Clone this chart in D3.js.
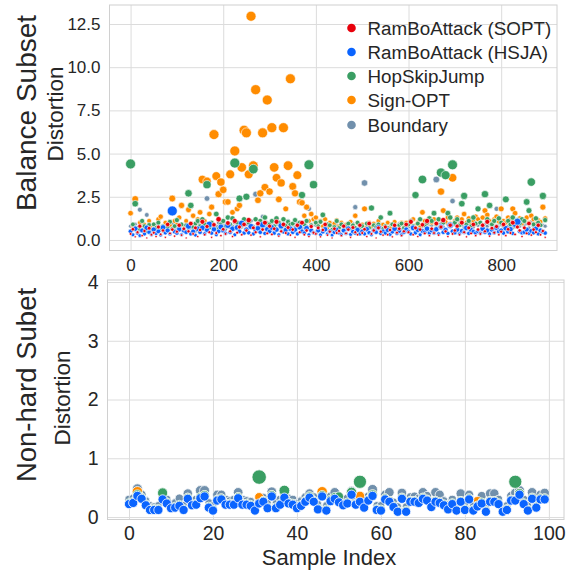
<!DOCTYPE html>
<html><head><meta charset="utf-8">
<script src="https://cdn.jsdelivr.net/npm/d3@7"></script>
<style>
body{margin:0;background:#fff;}
text{font-family:"Liberation Sans",Arial,sans-serif;fill:#262626;}
</style></head><body>
<svg id="c" width="570" height="572"></svg>
<script>
// ---------- DATA ----------
const seriesNames = ["RamBoAttack (SOPT)","RamBoAttack (HSJA)","HopSkipJump","Sign-OPT","Boundary"];
const seriesColors = ["#e8000b","#0a64ff","#3a9e63","#ff8c00","#7190ac"];

// Balance subset: values at sample indices 0,5,10,...,895
const topStep = 5;
const topSOPT = [
.35,.62,.18,.45,.8,.25,.52,.12,.68,.3, .42,.2,.75,.33,.55,.15,.9,.38,.6,.22,
.48,.85,.28,.65,.12,.5,.95,.35,.7,.2, .58,1.05,.3,.78,.45,.15,.88,.4,1.2,.25,
.62,.35,.98,.5,.2,1.1,.42,.75,.3,.9, .55,1.15,.28,.7,.45,.95,.18,.6,1.0,.38,
.8,.32,.65,1.05,.22,.5,.9,.4,.72,.28, .6,.15,.85,.45,1.0,.3,.55,.2,.78,.42,
.35,.7,.18,.58,.9,.28,.48,.12,.65,.4, .52,.25,.8,.38,.6,.15,.72,.45,.3,.85,
.4,.62,.2,.95,.35,.55,.12,.7,.48,.28, .75,.3,.58,.18,.85,.42,.65,.25,.5,.9,
.45,1.05,.3,.7,.2,.6,.88,.38,1.1,.25, .65,.4,.95,.28,.75,1.15,.5,.2,.85,.35,
.55,.8,.3,1.0,.45,.18,.7,.38,.9,.25, .6,.35,.85,.5,1.05,.22,.68,.42,.78,.3,
.48,.9,.25,.62,.4,1.0,.32,.75,.55,.2, .7,.38,.95,.28,.6,.45,.85,.3,.52,.15];
const topHSJA = [
.5,.3,.65,.4,.25,.55,.35,.7,.45,.3, .6,.38,.5,.28,.72,.42,.55,.35,1.68,.48,
.4,.62,.3,.55,.45,.8,.35,.5,.28,.65, .45,.7,.35,.58,.9,.4,.62,.3,.5,.75,
.55,.38,.85,.45,.65,.3,.72,.5,.95,.4, .6,.42,.78,.35,.55,.68,.45,.88,.38,.62,
.5,.72,.4,.6,.3,.82,.48,.58,.35,.65, .45,.6,.35,.75,.5,.4,.68,.3,.55,.42,
.38,.55,.3,.48,.62,.35,.5,.28,.45,.58, .42,.3,.55,.38,.65,.32,.48,.4,.58,.35,
.5,.35,.62,.42,.3,.55,.45,.72,.38,.5, .4,.58,.32,.48,.65,.38,.52,.3,.45,.6,
.48,.35,.7,.42,.58,.3,.52,.45,.65,.4, .55,.4,.62,.35,.75,.45,.58,.38,.85,.5,
.42,.6,.35,.52,.45,.7,.38,.58,.48,.4, .5,.38,.65,.45,.55,.35,.6,.42,.72,.48,
.55,.4,.68,.48,.62,.38,.92,1.05,.5,.42, .45,.6,.38,.52,.42,.65,.35,.55,.48,.4];
const topHSJ = [
4.4,.9,2.1,.7,.6,1.1,.8,.5,.87,.6, .9,.7,1.0,.6,.8,.5,.75,1.05,.65,.8,
1.15,.7,.9,.6,.85,2.7,2.0,.75,.95,1.1, .8,1.2,.9,3.2,.7,1.0,.85,1.5,.65,.9,
1.1,.8,1.3,.9,1.25,4.45,1.0,2.4,.85,1.2, 2.5,1.0,.8,4.1,1.2,.9,1.1,.7,1.3,.95,
.9,1.1,.8,1.25,1.0,.7,1.2,.85,1.05,.9, .95,1.15,.8,1.0,2.6,.9,1.1,4.35,.85,3.2,
1.0,.8,1.05,1.45,.7,.9,.85,.6,.75,1.1, .7,.9,.6,.8,.95,.65,.85,.7,1.0,.75,
.8,.6,.95,.7,1.85,.85,.75,.9,1.3,.65, .8,.7,1.55,.9,.75,.6,.85,.95,.7,.8,
.9,1.1,.8,2.6,.95,1.2,3.5,.85,1.0,1.25, 1.1,1.55,.9,1.2,3.9,1.0,3.75,1.55,1.3,4.35,
1.0,1.2,.85,2.1,2.55,.9,1.1,.8,1.3,.95, 1.8,1.0,.85,2.65,1.2,2.0,.9,1.1,.8,1.25,
1.0,.85,2.35,1.1,.9,1.3,.8,1.15,.95,1.2, 1.1,2.2,1.7,3.35,.9,1.25,1.0,.85,2.55,1.15];
const topSignOPT = [
1.55,.8,2.37,.7,1.0,.6,.9,.5,1.1,.75, .9,.65,1.2,1.35,.8,1.0,.7,.85,2.4,1.1,
.9,1.3,2.0,.8,1.1,1.75,.95,1.4,.85,1.2, 1.6,3.5,1.1,3.4,1.5,1.9,6.1,3.7,2.65,3.35,
2.9,2.2,2.2,3.8,1.6,5.15,1.8,2.0,4.2,6.35, 6.2,3.8,12.95,4.3,8.7,2.3,2.7,6.2,3.05,8.1,
2.8,6.5,4.2,3.6,2.35,3.3,6.5,1.8,4.3,9.33, 3.1,2.7,3.75,2.2,2.15,1.4,1.9,1.1,1.5,1.2,
1.3,.9,1.1,.8,1.2,.7,1.0,.85,.95,1.15, .8,1.0,.7,.9,.75,1.05,.85,1.4,.95,.7,
.9,1.8,.8,1.0,.75,.95,.7,1.1,.85,.9, .8,1.0,.7,.9,1.05,.75,.85,1.0,.8,1.0,
.9,1.1,1.2,.85,1.0,.8,1.6,1.1,.95,1.25, 1.0,1.2,.9,1.15,2.8,1.7,1.05,1.3,.95,3.6,
1.1,1.3,.9,1.2,1.5,1.0,1.25,.95,1.1,1.35, 1.2,1.0,1.3,1.7,1.45,1.1,.95,1.2,1.35,1.05,
1.8,1.1,1.0,1.3,1.2,1.8,1.55,1.0,1.25,.95, 1.1,1.3,1.0,1.4,1.2,.95,1.15,1.05,1.9,1.25];
const topBoundary = [
.8,.6,.9,.5,1.75,.7,.55,1.45,.65,.8, .7,.9,.6,.75,.5,.85,.65,.8,.95,.6,
.75,.55,.85,.65,.9,.6,.7,.8,.5,.95, .7,.85,.6,2.4,.75,.9,.65,.8,1.0,.7,
.85,.6,.95,.7,.8,1.0,.65,.9,.75,1.05, .9,.7,1.1,.8,2.65,.95,.75,1.35,.85,1.0,
.8,1.0,.7,.9,1.05,.75,.95,.85,1.1,.8, .9,.75,1.0,.85,.7,.95,.8,1.8,.9,1.2,
.85,.7,1.0,.75,.9,.65,.8,.95,.7,.85, .75,.9,.6,.85,.7,.8,.95,1.9,.65,.8,
.9,3.3,.7,.85,.75,.95,.65,.8,.9,.7, .8,.65,.9,.75,.85,.7,.95,.6,.8,.9,
.75,.9,.65,.85,.95,.7,.8,1.0,.75,.9, .85,1.0,3.5,.8,.95,.75,1.05,.9,.8,2.25,
.9,.75,1.0,.85,.7,.95,.8,1.1,.75,.9, .85,1.0,.75,.9,.8,.95,.7,1.05,1.8,.85,
.9,.75,1.0,.8,.95,.7,.85,1.1,.8,.9, .85,.95,.7,1.05,.8,.9,.75,1.0,.85,.8];

// Non-hard subset: values at sample indices 0..99
const botHSJA = [
.22,.24,.36,.31,.2,.12,.12,.12,.3,.23, .15,.16,.19,.12,.31,.2,.21,.32,.35,.16,
.11,.28,.3,.21,.21,.21,.32,.21,.21,.19, .11,.23,.26,.15,.35,.15,.21,.33,.23,.21,
.15,.19,.26,.33,.26,.13,.35,.11,.27,.31, .25,.2,.23,.38,.21,.26,.16,.28,.36,.12,
.11,.3,.26,.17,.09,.31,.09,.26,.26,.24, .31,.28,.17,.26,.24,.2,.13,.22,.11,.26,
.12,.3,.11,.18,.23,.09,.26,.26,.22,.09, .12,.28,.28,.38,.22,.11,.31,.16,.3,.3];
const botHSJ = [
.25,.27,.38,.33,.23,.15,.15,.15,.41,.26, .18,.19,.22,.15,.33,.23,.24,.34,.37,.19,
.14,.3,.32,.24,.24,.24,.34,.24,.24,.22, .14,.68,.28,.18,.37,.18,.24,.45,.26,.24,
.18,.22,.28,.35,.28,.16,.37,.14,.3,.34, .35,.23,.26,.42,.24,.6,.19,.3,.38,.15,
.14,.32,.28,.2,.12,.33,.12,.28,.28,.26, .33,.3,.2,.28,.26,.23,.16,.25,.14,.28,
.15,.32,.14,.21,.26,.12,.28,.28,.25,.12, .15,.3,.6,.4,.25,.14,.33,.19,.32,.32];
const botSignOPT = [
.24,.26,.43,.33,.22,.14,.14,.14,.32,.25, .17,.18,.21,.14,.33,.22,.23,.34,.37,.18,
.13,.3,.32,.23,.23,.23,.34,.23,.23,.21, .13,.34,.28,.17,.37,.17,.23,.35,.25,.23,
.17,.21,.28,.35,.28,.15,.43,.13,.29,.33, .27,.22,.25,.4,.23,.36,.18,.3,.38,.14,
.13,.32,.28,.19,.11,.33,.11,.28,.28,.26, .33,.3,.19,.28,.26,.22,.15,.24,.13,.28,
.14,.32,.13,.28,.25,.11,.28,.28,.24,.11, .14,.3,.3,.4,.24,.13,.33,.18,.32,.32];
const botBoundary = [
.3,.32,.48,.38,.28,.2,.18,.2,.36,.3, .22,.25,.32,.2,.4,.28,.3,.45,.45,.25,
.2,.38,.38,.3,.28,.3,.42,.3,.28,.27, .2,.32,.33,.24,.43,.24,.3,.4,.32,.3,
.24,.28,.34,.4,.34,.22,.42,.2,.35,.42, .33,.3,.32,.44,.3,.34,.25,.35,.47,.2,
.2,.38,.42,.26,.18,.41,.18,.34,.35,.32, .42,.36,.26,.42,.38,.28,.22,.3,.2,.4,
.22,.38,.2,.27,.36,.18,.4,.4,.3,.18, .2,.36,.41,.45,.3,.2,.42,.25,.38,.41];

const topXTicks = [0,200,400,600,800];
const topYTicks = [0,2.5,5,7.5,10,12.5];
const botXTicks = [0,20,40,60,80,100];
const botYTicks = [0,1,2,3,4];

// ---------- DRAW ----------
const svg = d3.select("#c");
const grid = "#dcdcdc";

function panel(cfg){
  const g = svg.append("g");
  const x = d3.scaleLinear().domain(cfg.xd).range([cfg.l, cfg.r]);
  const y = d3.scaleLinear().domain(cfg.yd).range([cfg.b, cfg.t]);
  const ax = g.append("g").attr("transform",`translate(0,${cfg.b})`)
    .call(d3.axisBottom(x).tickValues(cfg.xt).tickSize(-(cfg.b-cfg.t)).tickPadding(cfg.xpad).tickFormat(cfg.xf));
  const ay = g.append("g").attr("transform",`translate(${cfg.l},0)`)
    .call(d3.axisLeft(y).tickValues(cfg.yt).tickSize(-(cfg.r-cfg.l)).tickPadding(cfg.ypad).tickFormat(cfg.yf));
  [ax,ay].forEach(a=>{
    a.select(".domain").remove();
    a.selectAll(".tick line").attr("stroke",grid).attr("stroke-width",1);
    a.selectAll(".tick text").attr("font-size",cfg.fs).attr("fill","#262626")
      .style("font-family",'"Liberation Sans",Arial,sans-serif');
  });
  g.append("rect").attr("x",cfg.l).attr("y",cfg.t).attr("width",cfg.r-cfg.l).attr("height",cfg.b-cfg.t)
    .attr("fill","none").attr("stroke","#d0d0d0").attr("stroke-width",1);
  const clip = "clip"+cfg.id;
  svg.append("clipPath").attr("id",clip).append("rect").attr("x",cfg.l).attr("y",cfg.t).attr("width",cfg.r-cfg.l).attr("height",cfg.b-cfg.t);
  const pts = g.append("g").attr("clip-path",`url(#${clip})`);
  cfg.series.forEach(s=>{
    pts.append("g").selectAll("circle").data(s.vals).join("circle")
      .attr("cx",(d,i)=>x(i*cfg.step)).attr("cy",d=>y(d))
      .attr("r",d=>s.r(d)).attr("fill",seriesColors[s.k])
      .attr("stroke","#fff").attr("stroke-width",cfg.sw);
  });
  return {x,y};
}

const clamp=(v,a,b)=>Math.max(a,Math.min(b,v));
panel({id:"t", l:109.5, r:557, t:5, b:250.5, xd:[-45.5,920.5], yd:[-0.61,13.6],
  xt:topXTicks, yt:topYTicks, xf:d3.format("d"), yf:d3.format(".1f"), fs:"17px", xpad:8, ypad:9,
  step:topStep, sw:0.6,
  series:[
    {k:4, vals:topBoundary, r:v=>clamp(1.6+0.5*v,1.8,3.4)},
    {k:3, vals:topSignOPT, r:v=>clamp(1.6+0.75*v,2.2,5)},
    {k:2, vals:topHSJ, r:v=>clamp(1.7+0.75*v,2.2,5)},
    {k:1, vals:topHSJA, r:v=>clamp(1.3+2.2*v,1.8,5)},
    {k:0, vals:topSOPT, r:v=>clamp(0.8+1.6*v,1.0,2.8)}
  ]});
panel({id:"b", l:107.5, r:564, t:280, b:519.5, xd:[-5.12,103.6], yd:[-0.042,4.034],
  xt:botXTicks, yt:botYTicks, xf:d3.format("d"), yf:d3.format("d"), fs:"19.5px", xpad:7, ypad:9,
  step:1, sw:0.8,
  series:[
    {k:4, vals:botBoundary, r:v=>clamp(3.8+6*(v-0.25),3.8,5)},
    {k:3, vals:botSignOPT, r:v=>clamp(3.8+8*(v-0.25),3.8,8)},
    {k:2, vals:botHSJ, r:v=>clamp(3.8+8*(v-0.25),3.8,8)},
    {k:1, vals:botHSJA, r:v=>4.6}
  ]});

function vtext(x,y,txt,fs){
  svg.append("text").attr("transform",`translate(${x},${y}) rotate(-90)`)
    .attr("text-anchor","middle").attr("font-size",fs).text(txt);
}
vtext(36,113,"Balance Subset","28px");
vtext(63,114,"Distortion","22.5px");
vtext(36,385,"Non-hard Subet","27.5px");
vtext(70,398,"Distortion","22.5px");
svg.append("text").attr("x",329).attr("y",565).attr("text-anchor","middle").attr("font-size","22px").text("Sample Index");

const lg = svg.append("g");
const rowY = [28,52,76,100,125];
seriesNames.forEach((n,i)=>{
  lg.append("circle").attr("cx",351.5).attr("cy",rowY[i]).attr("r",4.3).attr("fill",seriesColors[i]);
  lg.append("text").attr("x",367.5).attr("y",rowY[i]).attr("dy","0.35em").attr("font-size","18.8px").text(n);
});
</script>
</body></html>
